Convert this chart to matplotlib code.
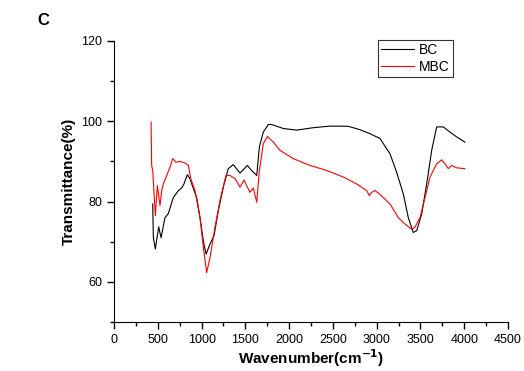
import numpy as np
import matplotlib
matplotlib.use("Agg")
import matplotlib.pyplot as plt
from matplotlib.ticker import MultipleLocator

plt.rcParams["font.family"] = ["Liberation Sans", "DejaVu Sans"]

# FTIR spectra (wavenumber cm-1, transmittance %)
bc_x = [442, 449, 472, 510, 537, 582, 620, 677, 734, 773, 799, 837, 868, 894, 944,
        982, 1020, 1051, 1096, 1142, 1191, 1248, 1305, 1362, 1439, 1523, 1573, 1630,
        1660, 1705, 1762, 1800, 1934, 2086, 2276, 2467, 2676, 2809, 2924, 3038, 3152,
        3228, 3304, 3361, 3418, 3457, 3514, 3571, 3628, 3685, 3761, 3837, 3914, 4008]
bc_y = [79.4, 71.0, 68.2, 73.7, 71.0, 76.0, 77.0, 81.0, 82.7, 83.4, 84.4, 86.7, 85.7,
        84.0, 81.0, 76.0, 70.2, 66.9, 69.4, 71.5, 77.7, 83.6, 88.2, 89.2, 87.1, 89.0,
        87.7, 86.5, 93.6, 97.3, 99.2, 99.2, 98.2, 97.8, 98.4, 98.8, 98.75, 97.9, 96.9,
        95.7, 91.9, 87.3, 81.9, 76.0, 72.3, 72.75, 76.9, 84.4, 92.75, 98.6, 98.6, 97.3,
        96.1, 94.8]

mbc_x = [423, 430, 442, 472, 495, 525, 544, 563, 602, 640, 670, 708, 754, 811, 849,
         876, 925, 982, 1020, 1058, 1096, 1153, 1211, 1279, 1325, 1382, 1439, 1485,
         1515, 1553, 1591, 1630, 1660, 1705, 1751, 1820, 1896, 2048, 2238, 2429, 2619,
         2771, 2885, 2916, 2942, 2981, 3038, 3152, 3247, 3323, 3400, 3437, 3495, 3552,
         3609, 3685, 3742, 3780, 3818, 3856, 3914, 4008]
mbc_y = [99.8, 89.0, 87.7, 76.5, 84.0, 79.0, 82.7, 84.4, 86.5, 88.6, 90.7, 89.8, 90.0,
         89.6, 89.0, 85.7, 82.7, 76.0, 68.6, 62.3, 66.0, 73.6, 80.3, 86.5, 86.5, 85.7,
         83.6, 85.4, 84.0, 82.3, 83.4, 79.8, 87.7, 94.4, 96.2, 94.8, 92.75, 90.7, 89.0,
         87.75, 86.1, 84.4, 82.75, 81.5, 82.3, 82.75, 81.75, 79.4, 76.0, 74.4, 73.1,
         73.6, 76.0, 81.0, 86.1, 89.4, 90.4, 89.4, 88.2, 89.0, 88.4, 88.2]

fig = plt.figure(figsize=(5.24, 3.71), dpi=100)
ax = fig.add_axes([0.2176, 0.1321, 0.7519, 0.7574])

ax.plot(bc_x, bc_y, color="black", lw=0.8, label="BC")
ax.plot(mbc_x, mbc_y, color="red", lw=0.8, label="MBC")

ax.set_xlim(0, 4500)
ax.set_ylim(50, 120)
ax.xaxis.set_major_locator(MultipleLocator(500))
ax.xaxis.set_minor_locator(MultipleLocator(250))
ax.yaxis.set_major_locator(MultipleLocator(20))
ax.yaxis.set_minor_locator(MultipleLocator(10))
ax.set_yticks([60, 80, 100, 120])
ax.tick_params(which="major", direction="out", length=5, width=1, labelsize=9)
ax.tick_params(which="minor", direction="out", length=3, width=1)
for s in ["top", "right"]:
    ax.spines[s].set_visible(False)

ax.set_xlabel("Wavenumber(cm$^{\\mathbf{-1}}$)", fontsize=11, fontweight="bold",
              labelpad=1)
ax.set_ylabel("Transmittance(%)", fontsize=11, fontweight="bold")

leg = ax.legend(loc="upper right", bbox_to_anchor=(0.86, 1.005), fontsize=10,
                frameon=True, fancybox=False, handlelength=2.4, borderpad=0.25,
                labelspacing=0.2, handletextpad=0.3, borderaxespad=0)
leg.get_frame().set_edgecolor("black")
leg.get_frame().set_linewidth(0.8)

fig.text(0.072, 0.945, "C", fontsize=12, fontweight="bold", ha="left", va="center")

plt.savefig("out.png", dpi=100)
plt.close()
